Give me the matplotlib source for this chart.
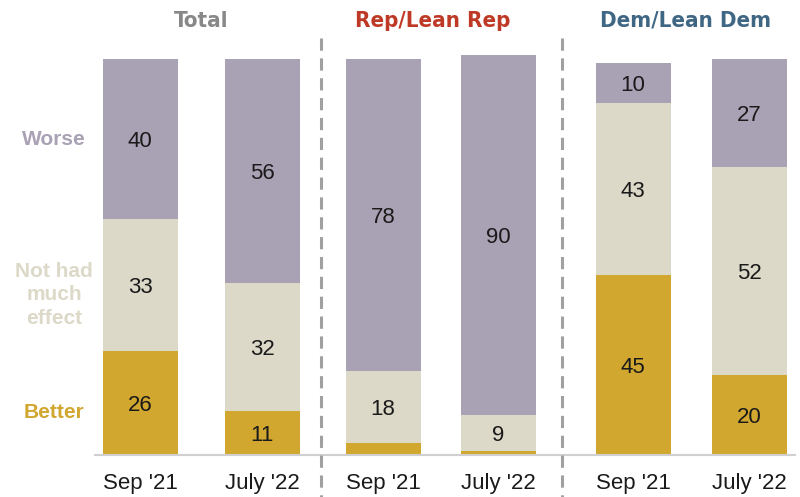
import matplotlib.pyplot as plt

groups = ["Total", "Rep/Lean Rep", "Dem/Lean Dem"]
periods = ["Sep '21", "July '22"]
better = [26, 11, 3, 1, 45, 20]
no_effect = [33, 32, 18, 9, 43, 52]
worse = [40, 56, 78, 90, 10, 27]

c_better = "#D1A730"
c_none = "#DCD9C8"
c_worse = "#A9A1B4"
title_colors = ["#888888", "#BF3A26", "#3F6784"]

# x layout in pixel-like units across the figure width
xpos = [140, 262, 383, 498, 633, 749]
width = 75

fig = plt.figure(figsize=(8, 4.97), dpi=100)
ax = fig.add_axes([0, 42 / 497, 1, 400 / 497])
ax.set_xlim(0, 800)
ax.set_ylim(0, 100)
ax.axis("off")

bottoms2 = [b + n for b, n in zip(better, no_effect)]
ax.bar(xpos, better, width, color=c_better)
ax.bar(xpos, no_effect, width, bottom=better, color=c_none)
ax.bar(xpos, worse, width, bottom=bottoms2, color=c_worse)

num_font = dict(fontsize=16, family=["Liberation Sans", "DejaVu Sans"], color="#1a1a1a",
                ha="center", va="center")
dy = -0.7  # small downward nudge of segment labels
for x, b, n, w, b2 in zip(xpos, better, no_effect, worse, bottoms2):
    if b >= 5:
        ax.text(x, b / 2 + dy, str(b), **num_font)
    ax.text(x, b + n / 2 + dy, str(n), **num_font)
    ax.text(x, b2 + w / 2 + dy, str(w), **num_font)

# baseline
ax.plot([95, 795], [0, 0], color="#d0d0d0", lw=1.5, clip_on=False)

# period labels under the bars
for i, x in enumerate(xpos):
    ax.text(x, -7.0, periods[i % 2], **num_font)

# group titles
for g, x, c in zip(groups, [201, 433, 686], title_colors):
    ax.text(x, 108.5, g, fontsize=16, fontweight="bold", fontstretch="condensed",
            family="DejaVu Sans", color=c, ha="center", va="center", clip_on=False)

# dashed separators
for x in [321, 562]:
    ax.plot([x, x], [104.2, -10.5], color="#a0a0a0", lw=2.2,
            dashes=(4, 2.5), clip_on=False)

# category labels on the left
lab = dict(fontsize=15, fontweight="bold", family=["Liberation Sans", "DejaVu Sans"],
           ha="center", va="center")
ax.text(54, 78.9, "Worse", color=c_worse, **lab)
ax.text(54, 40.0, "Not had\nmuch\neffect", color=c_none, linespacing=1.3, **lab)
ax.text(54, 10.6, "Better", color=c_better, **lab)

fig.savefig("out.png", dpi=100)
